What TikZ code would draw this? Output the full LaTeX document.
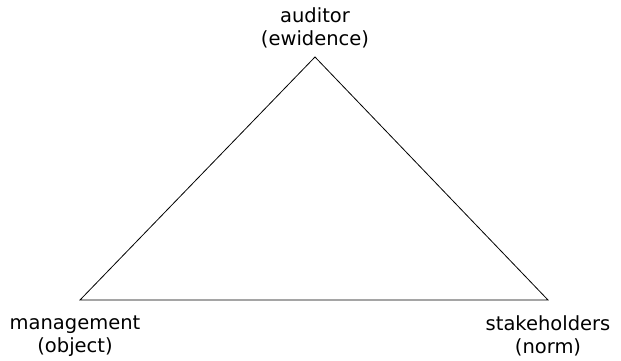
\documentclass[tikz,border=0pt]{standalone}
\usepackage{fontspec}
\setmainfont{DejaVu Sans}

\tikzset{
  etiqueta/.style={align=center, font=\fontsize{19.5}{23}\selectfont, inner sep=0pt}
}

\begin{document}
\begin{tikzpicture}[x=1pt,y=1pt]
        % Paso 1: Marco de la figura
        \useasboundingbox (0,0) rectangle (621,360);

        % Paso 2: Vértices del triángulo
        \coordinate (auditor) at (315,303);
        \coordinate (management) at (80,60);
        \coordinate (stakeholders) at (548,60);

        % Paso 3: Dibuja el triángulo
        \draw[line width=0.8pt] (auditor) -- (stakeholders) -- (management) -- cycle;

        % Paso 4: Leyendas de cada vértice
        \node[etiqueta] (lauditor) at (315,332) {auditor\\(ewidence)};
        \node[etiqueta] (lmanagement) at (75,24) {management\\(object)};
        \node[etiqueta] (lstakeholders) at (548,24) {stakeholders\\(norm)};
    \end{tikzpicture}
\end{document}
